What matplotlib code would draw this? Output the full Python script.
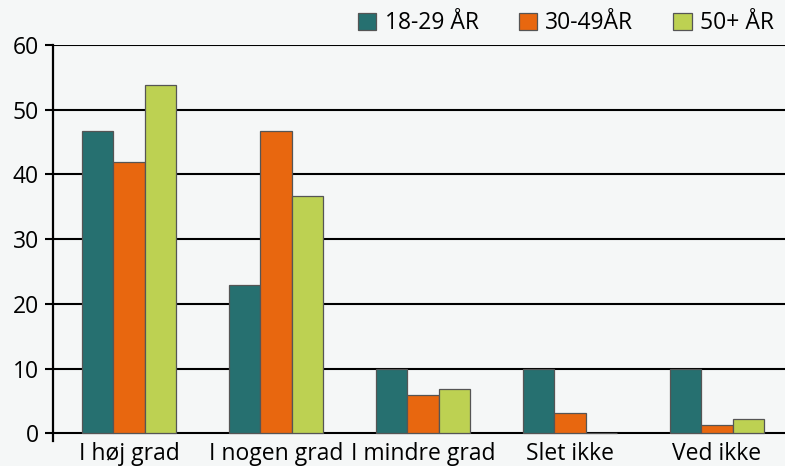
import numpy as np
import matplotlib.pyplot as plt

categories = ['I høj grad', 'I nogen grad', 'I mindre grad', 'Slet ikke', 'Ved ikke']
series_names = ['18-29 ÅR', '30-49ÅR', '50+ ÅR']
age_18_29 = [46.7, 22.9, 10.0, 10.0, 10.0]
age_30_49 = [41.9, 46.7, 5.9, 3.2, 1.2]
age_50_plus = [53.8, 36.6, 6.8, 0.0, 2.2]
colors = ['#267070', '#e8670f', '#bdd152']

plt.rcParams['font.family'] = ['Open Sans', 'DejaVu Sans']
bg = '#f5f7f7'

fig = plt.figure(figsize=(7.85, 4.66), dpi=100, facecolor=bg)
ax = fig.add_axes([53 / 785, 1 - 441 / 466, 1 - 53 / 785, (441 - 45) / 466])
ax.set_facecolor(bg)

x = np.arange(len(categories))
w = 0.214
for i, (vals, name) in enumerate(zip([age_18_29, age_30_49, age_50_plus], series_names)):
    ax.bar(x + (i - 1) * w, vals, w, color=colors[i], edgecolor='#555555',
           linewidth=0.9, label=name, zorder=3)

ax.set_xlim(-0.517, 4.463)
ax.set_ylim(-1.2, 60)
ax.set_yticks(range(0, 61, 10))
ax.set_xticks(x)
ax.set_xticklabels(categories)
ax.yaxis.grid(True, color='black', linewidth=1.5, zorder=0)
ax.set_axisbelow(True)
for s in ['top', 'right', 'bottom']:
    ax.spines[s].set_visible(False)
ax.spines['left'].set_linewidth(1.6)
ax.tick_params(axis='y', direction='out', length=6, width=1.5, pad=4, labelsize=16.5)
ax.tick_params(axis='x', length=0, pad=1, labelsize=16.5)

fig.legend(loc='upper right', bbox_to_anchor=(1.0, 1.0), ncol=3, frameon=False,
           fontsize=16.5, handlelength=0.8, handleheight=0.8, handletextpad=0.35,
           columnspacing=1.75, borderaxespad=0.1)

fig.savefig('out.png', dpi=100, facecolor=bg)
